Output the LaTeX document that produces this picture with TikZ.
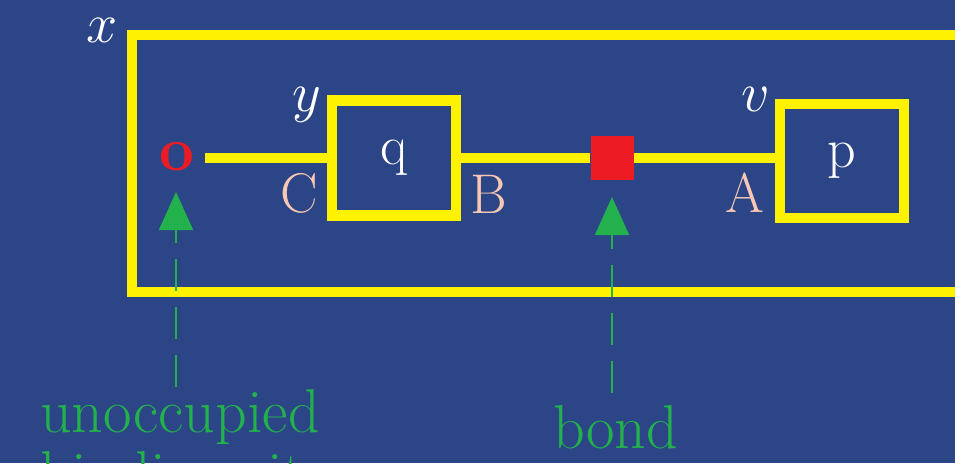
\RequirePackage{fix-cm}
\documentclass[tikz,border=0pt]{standalone}
\usetikzlibrary{arrows.meta}
\definecolor{bg}{RGB}{44,69,135}
\definecolor{yel}{RGB}{255,242,0}
\definecolor{bondred}{RGB}{237,28,36}
\definecolor{grn}{RGB}{34,177,76}
\definecolor{peach}{RGB}{248,200,180}
\tikzset{
  big/.style={font=\fontsize{56}{62}\selectfont},
  frame/.style={draw=yel, line width=10.5pt, inner sep=0pt},
  wire/.style={draw=yel, line width=10pt},
  site/.style={big, text=peach, inner sep=0pt},
  var/.style={big, text=white, inner sep=0pt},
  pointer/.style={draw=grn, line width=2pt, dash pattern=on 32pt off 16pt,
    -{Triangle[width=34pt,length=38pt]}},
  note/.style={font=\fontsize{62}{62}\selectfont, text=grn, inner sep=0pt, align=left},
}
\begin{document}
\begin{tikzpicture}[x=1pt,y=-1pt]
\useasboundingbox (0,0) rectangle (955,463);
\fill[bg] (0,0) rectangle (955,463);
% outer box
\node[frame, minimum width=880pt, minimum height=257pt] (outer) at (572,163.5) {};
\node[var] (xl) at (102,30) {$x$};
% boxes
\node[frame, big, text=white, minimum width=124pt, minimum height=115pt] (q) at (394,158) {q};
\node[var] (yl) at (307,105) {$y$};
\node[frame, big, text=white, minimum width=124pt, minimum height=114pt] (p) at (842,161) {p};
\node[var] (vl) at (756,99) {$v$};
% binding site labels
\node[site] (C) at (299,193) {C};
\node[site] (B) at (489,194) {B};
\node[site] (A) at (745,193) {A};
% unoccupied site
\node[text=bondred, inner sep=0pt, font=\fontsize{62}{66}\selectfont\bfseries] (o) at (177,157) {o};
\coordinate (ostart) at (205,158);
% bond
\node[fill=bondred, inner sep=0pt, minimum width=43pt, minimum height=44pt] (bond) at (612,158) {};
% wires
\draw[wire] (ostart) -- (ostart -| q.west);
\draw[wire] (q.east) -- (bond.west);
\draw[wire] (bond.east) -- (bond.east -| p.west);
% pointers
\coordinate (t1) at (176,387);
\coordinate (h1) at (176,192);
\coordinate (t2) at (612,393);
\coordinate (h2) at (612,197);
\draw[pointer] (t1) -- (h1);
\draw[pointer] (t2) -- (h2);
\node[note, anchor=base west] (n1) at (40,494) {unoccupied\\binding site};
\node[note, anchor=base west] (n2) at (553,448) {bond};
\end{tikzpicture}
\end{document}
